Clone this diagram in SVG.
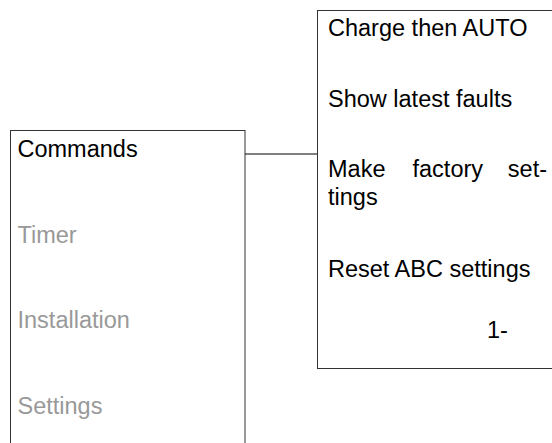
<svg xmlns="http://www.w3.org/2000/svg" width="552" height="443" viewBox="0 0 552 443">
<style>
.box{fill:#fff;stroke:#333;stroke-width:1}
.t{font-family:"Liberation Sans",Arial,sans-serif;font-size:23.5px;fill:#000}
.g{fill:#999}
.c{stroke:#000;stroke-width:1;fill:none}
</style>
<rect width="552" height="443" fill="#fff"/>
<g id="connectors">
<line class="c" x1="245" y1="154" x2="317" y2="154"/>
</g>
<g id="menu">
<rect class="box" x="10.5" y="130.5" width="234.5" height="330"/>
<text class="t" x="17.5" y="157">Commands</text>
<text class="t g" x="17.5" y="243">Timer</text>
<text class="t g" x="17.5" y="328">Installation</text>
<text class="t g" x="17.5" y="414">Settings</text>
</g>
<g id="commands">
<rect class="box" x="317.5" y="10.5" width="260" height="358"/>
<text class="t" x="328" y="36">Charge then AUTO</text>
<text class="t" x="328" y="107">Show latest faults</text>
<text class="t" x="328" y="177">Make</text>
<text class="t" x="412.5" y="177">factory</text>
<text class="t" x="547" y="177" text-anchor="end">set-</text>
<text class="t" x="328" y="205">tings</text>
<text class="t" x="328" y="277">Reset ABC settings</text>
<text class="t" x="487" y="338">1-</text>
</g>
</svg>
